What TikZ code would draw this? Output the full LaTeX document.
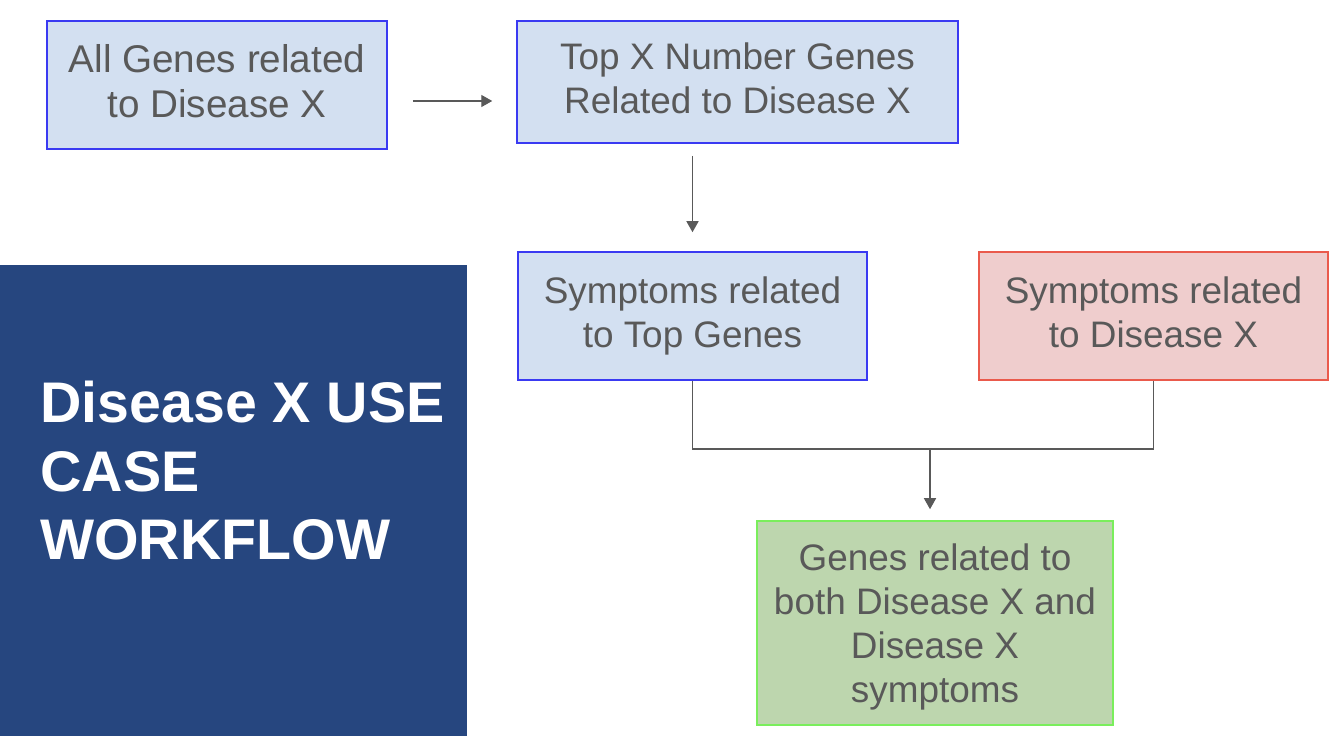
\documentclass[tikz,border=0pt]{standalone}
\usepackage{fontspec}
\setmainfont{Liberation Sans}
\usetikzlibrary{positioning,arrows.meta}
\definecolor{fillblue}{HTML}{D3E0F1}
\definecolor{edgeblue}{HTML}{3A3AF2}
\definecolor{fillred}{HTML}{EFCDCD}
\definecolor{edgered}{HTML}{EA5A4C}
\definecolor{fillgreen}{HTML}{BDD6AE}
\definecolor{edgegreen}{HTML}{7AEE5C}
\definecolor{titleblue}{HTML}{26467F}
\definecolor{textgray}{HTML}{595959}
\tikzset{
   box/.style={draw, line width=0.9pt, align=center, inner sep=0pt,
      text=textgray, font=\fontsize{21}{25}\selectfont},
   bluebox/.style={box, fill=fillblue, draw=edgeblue},
   redbox/.style={box, fill=fillred, draw=edgered},
   greenbox/.style={box, fill=fillgreen, draw=edgegreen},
   conn/.style={draw=textgray, line width=0.8pt},
   arr/.style={conn, -{Triangle[length=0.22cm,width=0.24cm]}},
   }
\begin{document}
\begin{tikzpicture}[x=0.02cm,y=-0.02cm]
        \useasboundingbox (0,0) rectangle (1336,736);
        % title panel
        \fill[titleblue] (0,265) rectangle (467,736);
        \node[anchor=west, align=left, inner sep=0pt, text=white,
            font=\fontsize{32.6}{39}\selectfont\bfseries] (title) at (40,471)
            {Disease X USE\\CASE\\WORKFLOW};
        % boxes
        \node[bluebox, minimum width=6.8cm, minimum height=2.56cm,
            font=\fontsize{22}{25.5}\selectfont] (allgenes) at (217,85)
            {All Genes related\\to Disease X\vphantom{p}};
        \node[bluebox, minimum width=8.82cm, minimum height=2.44cm] (topgenes) at (737.5,82)
            {Top X Number Genes\\Related to Disease X\vphantom{p}};
        \node[bluebox, minimum width=6.98cm, minimum height=2.56cm] (symtop) at (692.5,316)
            {Symptoms related\\to Top Genes};
        \node[redbox, minimum width=6.98cm, minimum height=2.56cm] (symdis) at (1153.5,316)
            {Symptoms related\\to Disease X\vphantom{p}};
        \node[greenbox, minimum width=7.12cm, minimum height=4.08cm] (both) at (935,623)
            {\rule{0pt}{20pt}Genes related to\\both Disease X and\\Disease X\\symptoms};
        % connectors
        \coordinate (join) at (930,449);
        \draw[arr] ([shift={(25,16)}]allgenes.east) -- ([shift={(-24,19)}]topgenes.west);
        \draw[arr, shorten <=0.24cm, shorten >=0.38cm] (symtop.north |- topgenes.south) -- (symtop.north);
        \draw[conn] (symtop.south) |- (join) -| (symdis.south);
        \draw[arr, shorten >=0.22cm] (join) -- (join |- both.north);
\end{tikzpicture}
\end{document}
